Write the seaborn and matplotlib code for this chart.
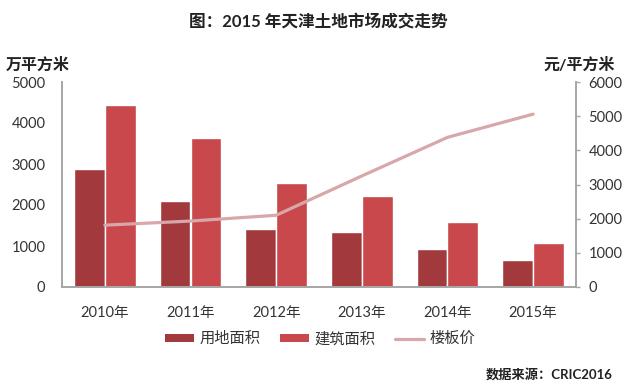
import numpy as np
import pandas as pd
import matplotlib
matplotlib.use('Agg')
import matplotlib.pyplot as plt
import seaborn as sns
from matplotlib.patches import Patch
from matplotlib.lines import Line2D

# --- DADOS ---
anos = ['2010年', '2011年', '2012年', '2013年', '2014年', '2015年']
area_terreno = [2870, 2090, 1410, 1330, 930, 670]        # 用地面积 (万平方米)
area_construida = [4440, 3630, 2530, 2220, 1590, 1070]   # 建筑面积 (万平方米)
preco_piso = [1810, 1930, 2100, 3250, 4380, 5060]        # 楼板价 (元/平方米)
series = ['用地面积', '建筑面积', '楼板价']

# --- ESTILO ---
COR_ESCURA = '#A23A3D'
COR_CLARA = '#C8484C'
COR_LINHA = '#D8A7AA'
COR_EIXO = '#A6A6A6'
COR_TEXTO = '#333333'

sns.set_style('white')
plt.rcParams['font.family'] = ['Lato', 'Noto Sans CJK SC', 'DejaVu Sans']

df_barras = pd.DataFrame({
    'ano': anos * 2,
    'valor': area_terreno + area_construida,
    'serie': [series[0]] * len(anos) + [series[1]] * len(anos),
})
df_linha = pd.DataFrame({'ano': anos, 'preco': preco_piso})

fig = plt.figure(figsize=(6.32, 3.88), dpi=100)
ax = fig.add_axes([62 / 632, 1 - 287 / 388, 514 / 632, 205 / 388])

sns.barplot(data=df_barras, x='ano', y='valor', hue='serie', ax=ax,
            palette=[COR_ESCURA, COR_CLARA], width=0.72, saturation=1,
            legend=False)
ax.set_ylim(0, 5000)
ax.set_yticks(range(0, 5001, 1000))
ax.set_xlim(-0.5, len(anos) - 0.5)
ax.set_xlabel('')
ax.set_ylabel('')

ax2 = ax.twinx()
sns.lineplot(data=df_linha, x='ano', y='preco', ax=ax2, color=COR_LINHA,
             linewidth=2.3, sort=False)
ax2.set_ylim(0, 6000)
ax2.set_yticks(range(0, 6001, 1000))
ax2.set_ylabel('')
ax2.set_xlim(-0.5, len(anos) - 0.5)

for a in (ax, ax2):
    for lado in ['top']:
        a.spines[lado].set_visible(False)
    for lado in ['left', 'right', 'bottom']:
        a.spines[lado].set_color(COR_EIXO)
        a.spines[lado].set_linewidth(1.2)

ax.tick_params(axis='y', length=0, pad=12, labelsize=10.5, labelcolor=COR_TEXTO)
ax.tick_params(axis='x', length=0, pad=14, labelsize=10.5, labelcolor=COR_TEXTO)
ax2.tick_params(axis='y', length=3, width=1, color=COR_EIXO, pad=6,
                labelsize=10.5, labelcolor=COR_TEXTO)

# títulos e rótulos
fig.text(318 / 632, 1 - 21.5 / 388, '图：2015 年天津土地市场成交走势',
         ha='center', va='center', fontsize=12, fontweight='bold', color='#222222')
fig.text(6 / 632, 1 - 65 / 388, '万平方米', ha='left', va='center',
         fontsize=11.5, fontweight='bold', color='#222222')
fig.text(615 / 632, 1 - 65 / 388, '元/平方米', ha='right', va='center',
         fontsize=11.5, fontweight='bold', color='#222222')
fig.text(613 / 632, 1 - 374 / 388, '数据来源：CRIC2016', ha='right', va='center',
         fontsize=9.5, fontweight='bold', color='#222222')

# legenda
handles = [
    Patch(facecolor=COR_ESCURA, edgecolor='none'),
    Patch(facecolor=COR_CLARA, edgecolor='none'),
    Line2D([0], [0], color=COR_LINHA, linewidth=2.3),
]
fig.legend(handles, series, loc='center', bbox_to_anchor=(320 / 632, 1 - 339 / 388),
           ncol=3, frameon=False, fontsize=11, handlelength=1.9, handleheight=0.4,
           handletextpad=0.35, columnspacing=1.3, labelcolor=COR_TEXTO)

fig.savefig('out.png', dpi=100)
